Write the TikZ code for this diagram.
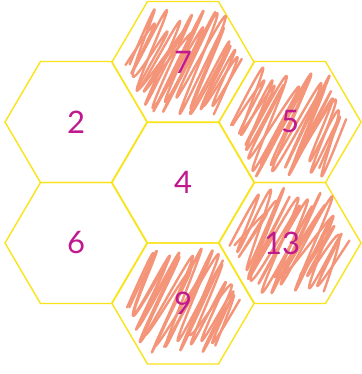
\documentclass[tikz,border=0pt]{standalone}
\usepackage{fontspec}
\setmainfont{Lato}
\definecolor{hexyellow}{HTML}{F9E31A}
\definecolor{digitmag}{HTML}{C0198E}
\definecolor{scribcol}{HTML}{F4957A}
\tikzset{
  hexedge/.style={draw=hexyellow, line width=1.4pt, line join=miter},
  scrib/.style={draw=scribcol, line width=2.4pt, line cap=round, line join=round},
  digit/.style={text=digitmag, font=\fontsize{31}{31}\selectfont, inner sep=0pt, anchor=center}
}
\newcommand\hexat[2]{%
  \draw[hexedge] (#1-71,#2) -- ++(35.5,-60.5) -- ++(71,0) -- ++(35.5,60.5) -- ++(-35.5,60.5) -- ++(-71,0) -- cycle;}
\newcommand\scribbleat[4]{%
  \pgfmathsetseed{#3}%
  \draw[scrib] plot[smooth, tension=0.8, variable=\t, samples=20, domain=-57:57]
    ({#1 + \t + 3*rand - 0.4*cos(30*(\t+57))*A(\t-20*cos(30*(\t+57)))},
     {#2 + cos(30*(\t+57))*A(\t-20*cos(30*(\t+57)))*(0.8+0.2*rand)});
  \pgfmathsetseed{#4}%
  \draw[scrib] plot[smooth, tension=0.8, variable=\t, samples=19, domain=54:-54]
    ({#1 + \t + 3*rand - 0.4*cos(30*(\t-54))*A(\t-20*cos(30*(\t-54)))},
     {#2 + cos(30*(\t-54))*A(\t-20*cos(30*(\t-54)))*(0.75+0.22*rand)});}
\begin{document}
\begin{tikzpicture}[x=1pt, y=-1pt, declare function={A(\u)=max(4,min(55,55*(74-abs(\u))/37));}]
\useasboundingbox (0,0) rectangle (361,374);
% hexagons
\hexat{76}{122}
\hexat{76}{243}
\hexat{183}{182.5}
\hexat{183}{62}
\hexat{290}{122}
\hexat{290}{243}
\hexat{183}{303.5}
% scribbles
\scribbleat{183}{62}{11}{12}
\scribbleat{290}{122}{21}{22}
\scribbleat{290}{243}{31}{32}
\scribbleat{183}{303.5}{41}{42}
% digits
\node[digit] (n2) at (76,122) {2};
\node[digit] (n6) at (76,243) {6};
\node[digit] (n4) at (183,182.5) {4};
\node[digit] (n7) at (183,62) {7};
\node[digit] (n5) at (290,122) {5};
\node[digit] (n13) at (282,243) {13};
\node[digit] (n9) at (183,303.5) {9};
\end{tikzpicture}
\end{document}
